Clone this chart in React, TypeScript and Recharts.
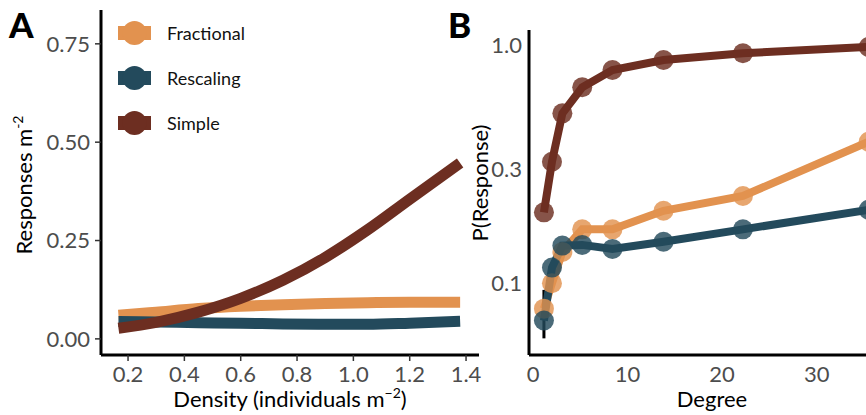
import React from "react";
import { LineChart, Line, XAxis, YAxis, ErrorBar } from "recharts";

// ---------- Panel A data ----------
const densityX = [0.166, 0.3, 0.45, 0.6, 0.75, 0.9, 1.05, 1.2, 1.379];
const fractionalA = [0.06, 0.068, 0.077, 0.083, 0.087, 0.09, 0.092, 0.093, 0.093];
const rescalingA = [0.044, 0.043, 0.041, 0.04, 0.038, 0.037, 0.037, 0.04, 0.045];
const simpleA = [0.027, 0.042, 0.068, 0.103, 0.149, 0.207, 0.277, 0.355, 0.447];
const densityTicks = [0.2, 0.4, 0.6, 0.8, 1.0, 1.2, 1.4];
const responseTicks = [0, 0.25, 0.5, 0.75];

// ---------- Panel B data ----------
const degreeX = [1.15, 2.0, 3.1, 5.2, 8.4, 13.8, 22.2, 35.5];
const fractionalB = [0.078, 0.0997, 0.135, 0.168, 0.168, 0.201, 0.232, 0.392];
const rescalingB = [0.0695, 0.116, 0.1435, 0.1445, 0.139, 0.149, 0.168, 0.203];
const simpleB = [0.198, 0.323, 0.516, 0.664, 0.785, 0.865, 0.923, 0.981];
const rescalingErrB = [[0.011, 0.024], [0, 0], [0, 0], [0, 0], [0, 0], [0, 0], [0, 0], [0, 0]];
const degreeTicks = [0, 10, 20, 30];
const probTicks = [0.1, 0.3, 1.0];

const series = ["Fractional", "Rescaling", "Simple"];
const COLORS: Record<string, string> = {
  Fractional: "#E2924F",
  Rescaling: "#234A5C",
  Simple: "#6D2E21",
};

const dataA = densityX.map((x, i) => ({
  x,
  Fractional: fractionalA[i],
  Rescaling: rescalingA[i],
  Simple: simpleA[i],
}));

const dataB = degreeX.map((x, i) => ({
  x,
  Fractional: fractionalB[i],
  Rescaling: rescalingB[i],
  Simple: simpleB[i],
  err: rescalingErrB[i],
}));

const FONT = "Lato, 'Open Sans', sans-serif";
const tickStyle = { fill: "#4D4D4D", fontSize: 22, fontFamily: FONT };

const LegendBox = () => (
  <div style={{ position: "absolute", left: 118, top: 10, fontFamily: FONT }}>
    {series.map((s) => (
      <div key={s} style={{ display: "flex", alignItems: "center", height: 45 }}>
        <svg width={34} height={26} style={{ display: "block" }}>
          <rect x={0} y={6} width={33} height={14} fill={COLORS[s]} />
          <circle cx={16.5} cy={13} r={12} fill={COLORS[s]} />
        </svg>
        <span style={{ marginLeft: 15, fontSize: 18, color: "#111", lineHeight: "20px" }}>{s}</span>
      </div>
    ))}
  </div>
);

const Dot = (color: string) => (props: any) => {
  const { cx, cy } = props;
  if (cx == null || cy == null) return null;
  return <circle cx={cx} cy={cy} r={10} fill={color} fillOpacity={0.82} />;
};

export default function App() {
  return (
    <div
      style={{
        position: "absolute",
        left: 0,
        top: 0,
        width: 866,
        height: 415,
        overflow: "hidden",
        background: "#fff",
      }}
    >
      {/* Panel A */}
      <div style={{ position: "absolute", left: 0, top: 0 }}>
        <LineChart width={490} height={415} data={dataA} margin={{ top: 10, right: 11, bottom: 0, left: 0 }}>
          <XAxis
            type="number"
            dataKey="x"
            domain={[0.104, 1.446]}
            ticks={densityTicks}
            interval={0}
            allowDataOverflow
            tickFormatter={(v: number) => v.toFixed(1)}
            tick={tickStyle}
            tickSize={6}
            tickMargin={5}
            height={60}
            axisLine={{ stroke: "#000", strokeWidth: 3 }}
            tickLine={{ stroke: "#333", strokeWidth: 1.5 }}
          />
          <YAxis
            type="number"
            domain={[-0.041, 0.836]}
            ticks={responseTicks}
            interval={0}
            allowDataOverflow
            tickFormatter={(v: number) => v.toFixed(2)}
            tick={tickStyle}
            tickSize={6}
            tickMargin={5}
            width={101}
            axisLine={{ stroke: "#000", strokeWidth: 3 }}
            tickLine={{ stroke: "#333", strokeWidth: 1.5 }}
          />
          {series.map((s) => (
            <Line
              key={s}
              type="monotone"
              dataKey={s}
              stroke={COLORS[s]}
              strokeWidth={11}
              strokeLinecap="butt"
              dot={false}
              activeDot={false}
              isAnimationActive={false}
            />
          ))}
        </LineChart>
        <LegendBox />
      </div>

      {/* Panel B */}
      <div style={{ position: "absolute", left: 440, top: 0 }}>
        <LineChart width={440} height={415} data={dataB} margin={{ top: 30, right: 0, bottom: 0, left: 0 }}>
          <XAxis
            type="number"
            dataKey="x"
            domain={[-0.43, 36.7]}
            ticks={degreeTicks}
            interval={0}
            allowDataOverflow
            tick={tickStyle}
            tickSize={0}
            tickMargin={11}
            tickLine={false}
            height={60}
            axisLine={{ stroke: "#000", strokeWidth: 3 }}
          />
          <YAxis
            type="number"
            scale="log"
            domain={[0.0498, 1.156]}
            ticks={probTicks}
            interval={0}
            allowDataOverflow
            tickFormatter={(v: number) => (v === 1 ? "1.0" : String(v))}
            tick={tickStyle}
            tickSize={0}
            tickMargin={7}
            tickLine={false}
            width={89}
            axisLine={{ stroke: "#000", strokeWidth: 3 }}
          />
          <Line
            type="linear"
            dataKey="Fractional"
            stroke={COLORS.Fractional}
            strokeWidth={8}
            dot={Dot(COLORS.Fractional)}
            activeDot={false}
            isAnimationActive={false}
          />
          <Line
            type="linear"
            dataKey="Rescaling"
            stroke={COLORS.Rescaling}
            strokeWidth={8}
            dot={Dot(COLORS.Rescaling)}
            activeDot={false}
            isAnimationActive={false}
          >
            <ErrorBar dataKey="err" direction="y" width={0} stroke="#000" strokeWidth={3} />
          </Line>
          <Line
            type="linear"
            dataKey="Simple"
            stroke={COLORS.Simple}
            strokeWidth={8}
            dot={Dot(COLORS.Simple)}
            activeDot={false}
            isAnimationActive={false}
          />
        </LineChart>
      </div>

      {/* Titles and panel letters */}
      <svg
        width={866}
        height={415}
        style={{ position: "absolute", left: 0, top: 0, pointerEvents: "none" }}
        fontFamily={FONT}
      >
        <text x={9} y={38} fontSize={35} fontWeight={900} fill="#000">A</text>
        <text x={448} y={38} fontSize={35} fontWeight={900} fill="#000">B</text>
        <text x={290} y={407} fontSize={22} textAnchor="middle" fill="#000">
          Density (individuals m<tspan fontSize={14} dy={-9}>−2</tspan>
          <tspan dy={9}>)</tspan>
        </text>
        <text x={712} y={407} fontSize={22} textAnchor="middle" fill="#000">Degree</text>
        <text transform="translate(31.5,185) rotate(-90)" fontSize={22} textAnchor="middle" fill="#000">
          Responses m<tspan fontSize={14} dy={-9}>-2</tspan>
        </text>
        <text transform="translate(488,183) rotate(-90)" fontSize={22} textAnchor="middle" fill="#000">
          P(Response)
        </text>
      </svg>
    </div>
  );
}
